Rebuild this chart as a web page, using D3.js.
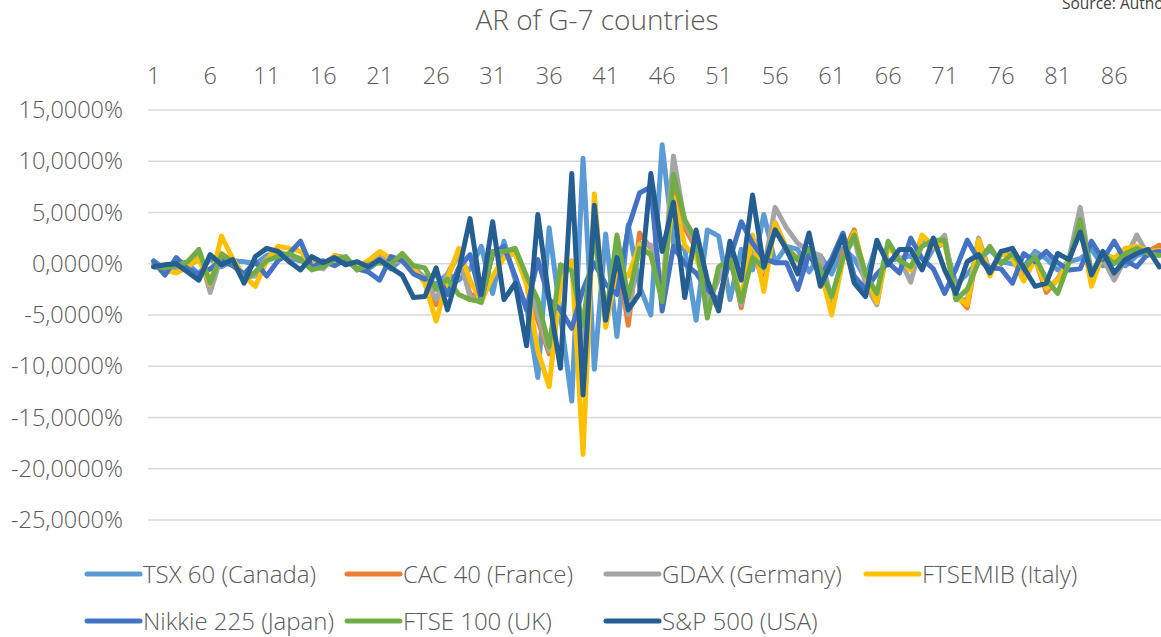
<!DOCTYPE html>
<html>
<head>
<meta charset="utf-8">
<script src="https://cdn.jsdelivr.net/npm/d3@7"></script>
<style>
body{margin:0;background:#fff}
svg{display:block}
text{font-family:"Open Sans",sans-serif;}
</style>
</head>
<body>
<svg id="c" width="1161" height="637"></svg>
<script>
const categories = [1,2,3,4,5,6,7,8,9,10,11,12,13,14,15,16,17,18,19,20,21,22,23,24,25,26,27,28,29,30,31,32,33,34,35,36,37,38,39,40,41,42,43,44,45,46,47,48,49,50,51,52,53,54,55,56,57,58,59,60,61,62,63,64,65,66,67,68,69,70,71,72,73,74,75,76,77,78,79,80,81,82,83,84,85,86,87,88,89,90];
const xTickLabels = [1,6,11,16,21,26,31,36,41,46,51,56,61,66,71,76,81,86];
const yTickValues = [15,10,5,0,-5,-10,-15,-20,-25];

const tsx60 = [
0.3,-0.5,0.2,0.0,-1.0,0.5,-0.3,0.3,0.2,0.0,
0.8,1.0,0.5,0.3,0.5,-0.3,0.6,0.2,0.0,-0.5,
0.3,-0.5,0.5,-0.3,-1.5,-2.0,-1.0,-1.6,-0.5,1.7,
-2.9,2.2,-1.6,-4.2,-11.1,3.5,-5.0,-13.4,10.3,-10.3,
2.9,-7.1,3.8,-2.2,-5.0,11.6,2.0,1.4,-5.5,3.3,
2.7,-3.5,1.4,-0.6,4.8,0.1,1.7,1.4,-0.8,0.8,
-1.0,1.5,0.5,-1.5,2.0,0.3,0.5,0.8,-0.5,1.5,
2.0,-2.0,-1.0,0.3,1.4,0.2,0.0,-0.3,1.2,0.5,
-0.6,0.2,0.5,1.4,-0.2,0.3,-0.2,0.8,1.2,1.5];

const cac40 = [
-0.2,-0.5,-0.3,-0.3,0.5,-1.8,1.0,0.2,-1.2,-1.0,
0.5,1.0,0.8,0.5,-0.3,-0.3,0.6,0.5,-0.5,0.0,
0.8,0.0,0.5,-0.3,-1.5,-4.0,-1.0,1.0,-3.0,-3.2,
1.0,1.0,1.2,-1.5,-5.5,-8.8,-1.0,0.0,-9.5,4.0,
-5.8,1.0,-6.0,3.0,1.5,-3.0,8.0,3.5,1.5,-3.5,
-4.0,1.0,-4.3,1.5,-2.0,4.0,1.5,0.5,1.0,-0.5,
-4.0,1.0,3.3,-1.5,-3.5,1.8,0.5,-0.5,2.5,1.5,
2.2,-3.0,-4.3,1.8,-1.0,1.0,0.8,-1.5,0.5,-2.8,
-1.5,0.3,3.8,-1.8,1.0,0.5,1.5,1.5,1.2,1.8];

const gdax = [
-0.3,-0.5,-0.4,-0.2,1.2,-2.8,0.8,0.2,-1.3,-1.2,
0.5,1.2,0.8,0.5,-0.2,-0.5,0.8,0.6,-0.6,-0.2,
0.8,0.2,0.3,-0.5,-1.3,-3.5,-1.0,0.8,-3.2,-3.8,
1.2,1.0,1.0,-1.5,-5.0,-8.5,-0.5,0.0,-8.0,4.0,
-5.0,1.5,-5.0,2.0,1.8,-3.0,10.5,4.0,2.0,-4.0,
-1.5,1.0,-4.0,1.5,-0.5,5.5,3.5,2.0,1.2,0.8,
-3.5,0.5,2.5,-2.0,-4.0,2.0,0.5,-1.8,2.3,1.5,
2.8,-3.5,-3.5,2.5,-0.8,1.2,0.5,-1.2,0.8,-2.5,
-1.5,0.5,5.5,-1.0,0.5,-1.6,0.5,2.8,0.8,1.3];

const ftsemib = [
-0.1,-0.6,-0.9,-0.3,0.5,-2.0,2.7,0.5,-1.2,-2.2,
0.3,1.7,1.5,1.2,0.0,-0.2,0.8,0.3,-0.3,0.3,
1.2,0.5,0.5,-0.5,-1.9,-5.6,-1.5,1.5,-1.6,-3.7,
-1.2,0.6,1.0,-2.0,-8.5,-12.0,-2.0,0.3,-18.6,6.8,
-6.2,-0.6,-1.2,1.9,0.8,-2.5,6.5,1.8,0.6,-2.2,
-4.5,1.0,-3.5,2.8,-2.7,4.0,1.4,0.3,1.4,-0.5,
-5.0,0.4,3.1,-1.0,-3.8,1.7,0.5,-0.6,2.8,1.7,
2.0,-3.2,-4.0,2.3,-1.2,1.0,0.5,-1.7,0.5,-2.4,
-1.6,0.3,3.6,-2.2,1.0,0.5,1.5,1.7,1.2,1.3];

const nikkei225 = [
0.2,-1.1,0.6,-0.5,-1.0,-0.5,0.3,-0.2,-1.0,0.2,
-1.2,0.3,1.0,2.2,-0.4,0.3,-0.2,0.4,-0.5,-0.8,
-1.6,0.7,0.3,-1.0,-1.5,-1.0,-3.0,-0.4,0.9,-3.5,
1.0,1.7,-1.2,-4.5,0.4,-3.5,-4.5,-6.3,-2.5,0.1,
-2.0,-3.0,3.5,6.9,7.5,-4.6,1.7,0.0,-0.9,-2.5,
-3.6,0.5,4.1,2.0,0.5,0.1,0.1,-2.5,1.0,-1.2,
0.5,3.0,-1.2,-2.5,-1.0,0.1,-0.9,2.5,0.5,-0.5,
-2.9,-0.5,2.3,0.4,-0.4,-0.5,-1.9,1.0,0.2,1.2,
0.1,-0.6,-0.5,2.2,0.4,2.2,0.3,-0.3,1.0,1.2];

const ftse100 = [
-0.3,-0.4,-0.2,0.2,1.4,-1.9,0.9,0.2,-1.6,-0.8,
0.3,0.7,1.0,0.4,-0.6,-0.3,0.4,0.7,-0.6,-0.1,
0.1,0.0,1.0,-0.2,-0.4,-2.5,-1.5,-3.0,-3.5,-3.7,
1.2,1.2,1.5,-1.2,-3.5,-8.1,-0.1,-0.7,-6.0,3.0,
-5.5,2.8,-3.3,1.5,0.9,-3.7,8.7,4.3,2.3,-5.3,
-0.3,0.4,-3.7,0.6,-0.4,3.3,1.5,0.4,1.5,-0.5,
-3.2,0.5,2.8,-1.0,-2.9,2.2,0.3,-0.3,1.7,2.3,
2.3,-3.5,-2.5,0.2,1.7,0.0,1.0,-0.5,0.7,-1.5,
-2.9,0.1,4.3,-1.0,1.0,0.0,1.0,1.5,1.0,0.8];

const sp500 = [
-0.3,-0.1,0.0,-0.8,-1.6,0.9,-0.1,0.4,-1.9,0.7,
1.5,1.2,0.2,-0.6,0.7,0.1,0.6,-0.1,0.2,-0.3,
0.4,-0.4,-1.1,-3.3,-3.2,-0.4,-4.5,-0.7,4.4,-3.0,
4.1,-3.5,-1.9,-8.0,4.8,-3.5,-10.2,8.8,-12.8,5.7,
-5.5,0.6,-4.5,-2.9,8.8,1.2,6.0,-3.3,3.3,-1.6,
-4.6,2.2,-1.6,6.7,-0.3,3.3,1.4,-1.0,3.0,-2.2,
0.1,2.7,-1.9,-3.2,2.3,-0.1,1.4,1.4,-0.6,2.5,
-0.6,-2.9,0.2,0.9,-0.9,1.2,1.5,-0.4,-2.2,-1.9,
1.0,0.4,3.1,-1.1,1.2,-0.9,0.4,1.0,1.4,-0.3];

const seriesNames = ["TSX 60 (Canada)","CAC 40 (France)","GDAX (Germany)","FTSEMIB (Italy)","Nikkie 225 (Japan)","FTSE 100 (UK)","S&P 500 (USA)"];
const seriesValues = [tsx60, cac40, gdax, ftsemib, nikkei225, ftse100, sp500];
const seriesColors = ["#5B9BD5","#ED7D31","#A5A5A5","#FFC000","#4472C4","#70AD47","#255E91"];

const series = seriesNames.map((n,i)=>({name:n, values:seriesValues[i], color:seriesColors[i]}));

const svg = d3.select("#c");
const W = 1161;
const left = 148, step = 11.3;
const x = d3.scaleBand().domain(categories).range([left, left + categories.length*step]);
const cx = c => x(c) + x.bandwidth()/2;
const y = d3.scaleLinear().domain([-25,15]).range([520,110]);

const loc = d3.formatLocale({decimal:",", thousands:".", grouping:[3], currency:["","%"], minus:"-"});
const f4 = loc.format(".4f");
const fmt = d => f4(d) + "%";

// title
svg.append("text").attr("x",597).attr("y",30).attr("text-anchor","middle")
  .attr("font-size",28).attr("fill","#595959").attr("font-weight",300).text("AR of G-7 countries");
svg.append("text").attr("x",1062).attr("y",9).attr("font-size",15.5).attr("fill","#404040").text("Source: Authors");

// gridlines
svg.append("g").selectAll("line").data(yTickValues).join("line")
  .attr("x1",left).attr("x2",W).attr("y1",d=>y(d)).attr("y2",d=>y(d))
  .attr("stroke","#D9D9D9").attr("stroke-width",1.5);

// y axis
const ya = svg.append("g").attr("transform",`translate(${left},0)`)
  .call(d3.axisLeft(y).tickValues(yTickValues).tickFormat(fmt).tickSize(0).tickPadding(25));
ya.select(".domain").remove();
ya.selectAll("text").attr("font-size",23.5).attr("fill","#595959").attr("font-family","Open Sans").attr("font-weight",300);

// x axis (top)
const xa = svg.append("g").attr("transform",`translate(0,84)`)
  .call(d3.axisTop(x).tickValues(xTickLabels).tickSize(0).tickPadding(0));
xa.select(".domain").remove();
xa.selectAll("text").attr("font-size",23.5).attr("fill","#595959").attr("font-family","Open Sans").attr("font-weight",300).attr("dy","0");

// lines
const line = d3.line().x((d,i)=>cx(categories[i])).y(d=>y(d));
svg.append("g").selectAll("path").data(series).join("path")
  .attr("d",d=>line(d.values)).attr("fill","none").attr("stroke",d=>d.color)
  .attr("stroke-width",5).attr("stroke-linejoin","round").attr("stroke-linecap","round");

// legend
const legPos = [[85,574],[345,574],[604,574],[864,574],[85,621],[345,621],[604,621]];
const lg = svg.append("g").selectAll("g").data(series).join("g")
  .attr("transform",(d,i)=>`translate(${legPos[i][0]},${legPos[i][1]})`);
lg.append("line").attr("x1",2).attr("x2",55).attr("y1",0).attr("y2",0)
  .attr("stroke",d=>d.color).attr("stroke-width",5).attr("stroke-linecap","round");
lg.append("text").attr("x",58).attr("y",8.5).attr("font-size",24).attr("fill","#595959").attr("font-weight",300).text(d=>d.name);
</script>
</body>
</html>
